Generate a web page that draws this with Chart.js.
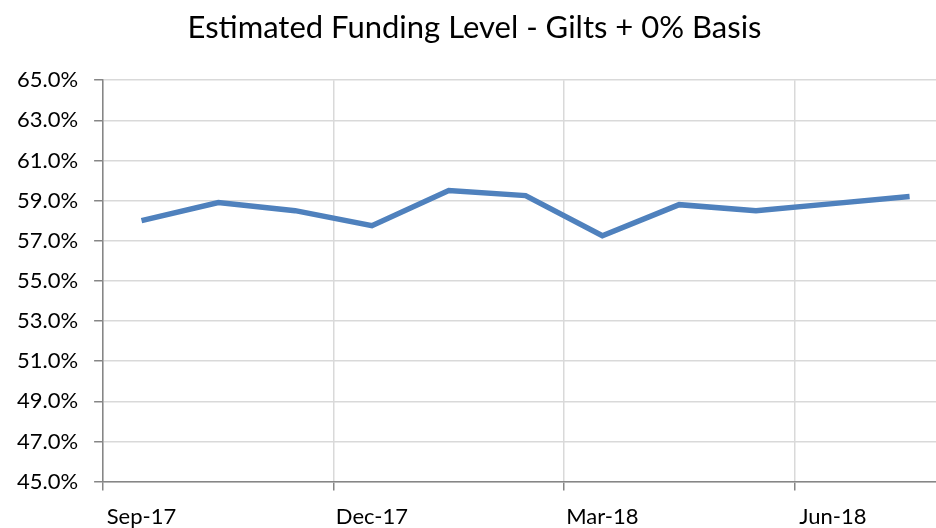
<!DOCTYPE html>
<html>
<head>
<meta charset="utf-8">
<script src="https://cdn.jsdelivr.net/npm/chart.js@4/dist/chart.umd.min.js"></script>
<style>
  html, body { margin: 0; padding: 0; background: #fff; overflow: hidden; }
  #wrap { position: relative; width: 970px; height: 557px; }
</style>
</head>
<body>
<div id="wrap"><canvas id="chart"></canvas></div>
<script>
// Chart data
const months = ['Sep-17', 'Oct-17', 'Nov-17', 'Dec-17', 'Jan-18', 'Feb-18',
                'Mar-18', 'Apr-18', 'May-18', 'Jun-18', 'Jul-18'];
const fundingLevel = [58.0, 58.9, 58.5, 57.75, 59.5, 59.25, 57.25, 58.8, 58.5, 58.85, 59.2];
const yTicks = [45, 47, 49, 51, 53, 55, 57, 59, 61, 63, 65];

const axisGrey = '#868686';
const gridGrey = '#d9d9d9';
const fontFamily = 'Lato, "Open Sans", sans-serif';

new Chart(document.getElementById('chart'), {
    type: 'line',
    data: {
        labels: months,
        datasets: [{
            data: fundingLevel,
            borderColor: '#4f81bd',
            borderWidth: 5.5,
            pointRadius: 0,
            tension: 0,
            fill: false
        }]
    },
    options: {
        responsive: true,
        maintainAspectRatio: false,
        animation: false,
        layout: { padding: { left: 1, right: 22, top: 0, bottom: 14 } },
        plugins: {
            legend: { display: false },
            tooltip: { enabled: false },
            title: {
                display: true,
                text: 'Estimated Funding Level - Gilts + 0% Basis',
                color: '#000',
                font: { family: fontFamily, size: 31, weight: 'normal' },
                padding: { top: 9, bottom: 34 }
            }
        },
        scales: {
            x: {
                type: 'category',
                offset: true,
                border: { display: true, color: axisGrey, width: 1.5 },
                grid: {
                    offset: true,
                    drawTicks: true,
                    tickLength: 9,
                    lineWidth: 1.5,
                    color: ctx => (ctx.index % 3 === 0 ? gridGrey : 'rgba(0,0,0,0)'),
                    tickColor: ctx => (ctx.index % 3 === 0 ? axisGrey : 'rgba(0,0,0,0)')
                },
                ticks: {
                    autoSkip: false,
                    maxRotation: 0,
                    padding: 13,
                    color: '#000',
                    font: { family: fontFamily, size: 22 },
                    callback: (value, index) => (index % 3 === 0 ? months[index] : '')
                }
            },
            y: {
                min: yTicks[0],
                max: yTicks[yTicks.length - 1],
                border: { display: true, color: axisGrey, width: 1.5 },
                grid: {
                    color: gridGrey,
                    lineWidth: 1.5,
                    tickLength: 9,
                    tickColor: axisGrey
                },
                afterBuildTicks: axis => {
                    axis.ticks = yTicks.map(v => ({ value: v }));
                },
                ticks: {
                    padding: 16,
                    color: '#000',
                    font: { family: fontFamily, size: 22 },
                    callback: value => value.toFixed(1) + '%'
                }
            }
        }
    }
});
</script>
</body>
</html>
